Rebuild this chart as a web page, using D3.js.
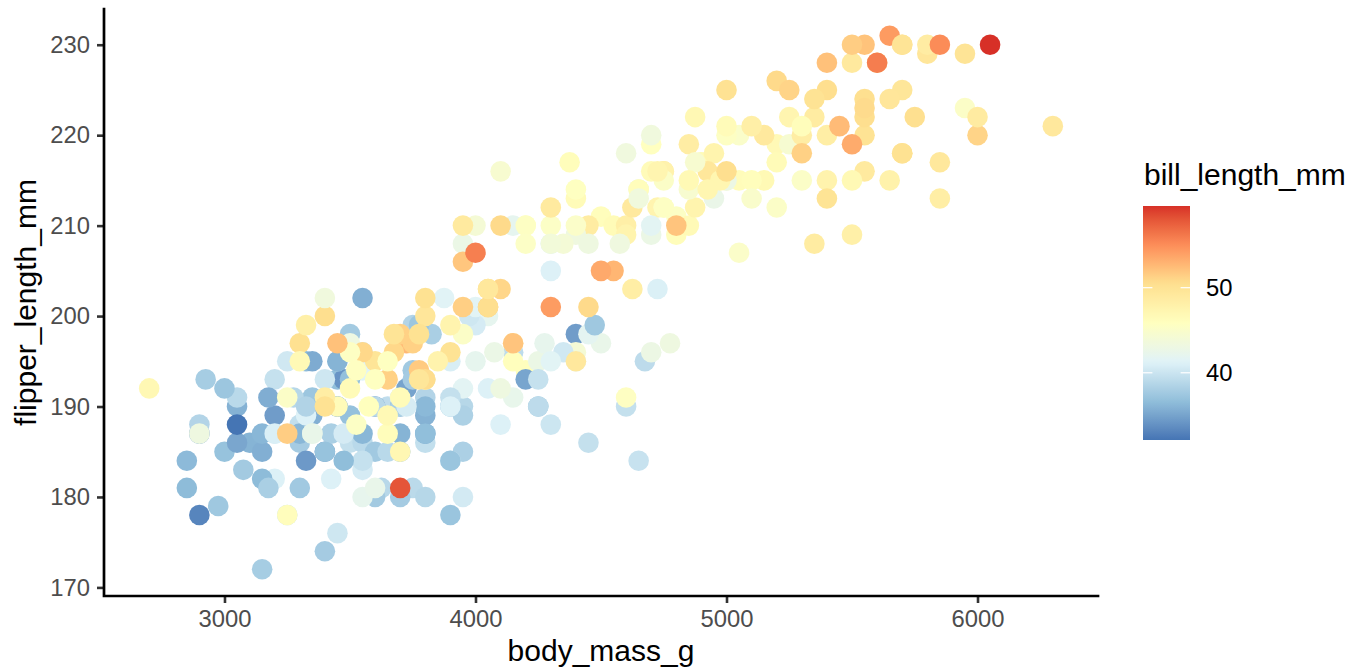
<!DOCTYPE html>
<html>
<head>
<meta charset="utf-8">
<script src="https://cdn.jsdelivr.net/npm/d3@7"></script>
<style>
  html, body { margin: 0; padding: 0; background: #ffffff; }
  svg { display: block; font-family: "Liberation Sans", Arial, sans-serif; }
</style>
</head>
<body>
<svg id="chart" width="1355" height="668"></svg>
<script>
// Palmer penguins: Adelie, Gentoo, Chinstrap (rows with NA removed), in dataset order
const body_mass_g = [
3750,3800,3250,3450,3650,3625,4675,3475,4250,3300,3700,3200,3800,4400,3700,3450,4500,3325,4200,
3400,3600,3800,3950,3800,3800,3550,3200,3150,3950,
3250,3900,3300,3900,3325,4150,3950,3550,3300,4650,3150,3900,3100,4400,3000,4600,3425,2975,3450,4150,
3500,4300,3450,4050,2900,3700,3550,3800,2850,3750,3150,4400,3600,4050,2850,3950,3350,4100,
3050,4450,3600,3900,3550,4150,3700,4250,3700,3900,3550,4000,3200,4700,3800,4200,
3350,3550,3800,3500,3950,3600,3550,4300,3400,4450,3300,4300,3700,4350,2900,4100,
3725,4725,3075,4250,2925,3550,3750,3900,3175,4775,3825,4600,3200,4275,3900,4075,
2900,3775,3350,3325,3150,3500,3450,3875,3050,4000,3275,4300,3050,4000,3325,3500,
3500,4475,3425,3900,3175,3975,3400,4250,3400,3475,3050,3725,3000,3650,4250,3475,3450,3750,3700,4000,
// Gentoo
4500,5700,4450,5700,5400,4550,4800,5200,4400,5150,4650,5550,4650,5850,4200,5850,4150,6300,4800,5350,
5700,5000,4400,5050,5000,5100,4100,5650,4600,5550,5250,4700,5050,6050,5150,5400,4950,5250,4350,5350,
3950,5700,4300,4750,5550,4900,4200,5400,5100,5300,4850,5300,4400,5000,4900,5050,4300,5000,4450,5550,
4200,5300,4400,5650,4700,5700,4650,5800,4700,5550,4750,5000,5100,5200,4700,5800,4600,6000,4750,5950,
4625,5450,4725,5350,4750,5600,4600,5300,4875,5550,4950,5400,4750,5650,4850,5200,4925,4875,4625,5250,
4850,5600,4975,5500,4725,5500,4700,5500,4575,5500,5000,5950,4650,5500,4375,5850,4875,6000,4925,
4850,5750,5200,5400,
// Chinstrap
3500,3900,3650,3525,3725,3950,3250,3750,4150,3700,3800,3775,3700,4050,3575,4050,3300,3700,3450,4400,
3600,3400,2900,3800,3300,4150,3400,3800,3700,4550,3200,4300,3350,4100,3600,3900,3850,4800,2700,4500,
3950,3650,3550,3500,3675,4450,3400,4300,3250,3675,3325,3950,3600,4050,3350,3450,3250,4050,3800,3525,
3950,3650,3650,4000,3400,3775,4100,3775
];
const flipper_length_mm = [
181,186,195,193,190,181,195,193,190,186,180,182,191,198,185,195,197,184,194,
174,180,189,185,180,187,183,187,172,180,
178,178,188,184,195,196,190,180,181,184,182,195,186,196,185,190,182,179,190,191,
186,188,190,200,187,191,186,193,181,194,185,195,185,192,184,192,195,188,
190,198,190,190,196,197,190,195,191,184,187,195,189,196,187,193,
191,194,190,189,189,190,202,205,185,186,187,208,190,196,178,192,
192,203,183,190,193,184,199,190,181,197,198,191,193,197,191,196,
188,199,189,189,187,198,176,202,186,199,191,195,191,210,190,197,
193,199,187,190,191,200,185,193,193,187,188,190,192,185,190,184,195,193,187,201,
// Gentoo
211,230,210,218,215,210,211,219,209,215,214,216,214,213,210,217,210,221,209,222,
218,215,213,215,215,215,216,215,210,220,222,209,207,230,220,220,213,219,208,208,
208,225,210,216,222,217,210,225,213,215,210,220,210,225,217,220,208,220,208,224,
208,221,214,231,219,230,214,229,220,223,216,221,221,217,216,230,209,220,215,223,
212,221,212,224,212,228,218,218,212,230,218,228,212,224,214,226,216,222,203,225,
219,228,215,228,216,215,210,219,208,209,216,229,213,230,217,230,217,222,214,
215,222,212,213,
// Chinstrap
192,196,193,188,197,198,178,197,195,198,193,194,185,201,190,201,197,181,190,195,
181,191,187,193,195,197,200,200,191,205,187,201,187,203,195,199,195,210,192,205,
210,187,196,196,196,201,190,212,187,198,199,201,193,203,187,197,191,203,202,194,
206,189,195,207,202,193,210,198
];
const bill_length_mm = [
39.1,39.5,40.3,36.7,39.3,38.9,39.2,34.1,42.0,37.8,37.8,41.1,38.6,34.6,36.6,38.7,42.5,34.4,46.0,
37.8,37.7,35.9,38.2,38.8,35.3,40.6,40.5,37.9,40.5,
39.5,37.2,39.5,40.9,36.4,39.2,38.8,42.2,37.6,39.8,36.5,40.8,36.0,44.1,37.0,39.6,41.1,37.5,36.0,42.3,
39.6,40.1,35.0,42.0,34.5,41.4,39.0,40.6,36.5,37.6,35.7,41.3,37.6,41.1,36.4,41.6,35.5,41.1,
35.9,41.8,33.5,39.7,39.6,45.8,35.5,42.8,40.9,37.2,36.2,42.1,34.6,42.9,36.7,35.1,
37.3,41.3,36.3,36.9,38.3,38.9,35.7,41.1,34.0,39.6,36.2,40.8,38.1,40.3,33.1,43.2,
35.0,41.0,37.7,37.8,37.9,39.7,38.6,38.2,38.1,43.2,38.1,45.6,39.7,42.2,39.6,42.7,
38.6,37.3,35.7,41.1,36.2,37.7,40.2,41.4,35.2,40.6,38.8,41.5,39.0,44.1,38.5,43.1,
36.8,37.5,38.1,41.1,35.6,40.2,37.0,39.7,40.2,40.6,32.1,40.7,37.3,39.0,39.2,36.6,36.0,37.8,36.0,41.5,
// Gentoo
46.1,50.0,48.7,50.0,47.6,46.5,45.4,46.7,43.3,46.8,40.9,49.0,45.5,48.4,45.8,49.3,42.0,49.2,46.2,48.7,
50.2,45.1,46.5,46.3,42.9,46.1,44.5,47.8,48.2,50.0,47.3,42.8,45.1,59.6,49.1,48.4,42.6,44.4,44.0,48.7,
42.7,49.6,45.3,49.6,50.5,43.6,45.5,50.5,44.9,45.2,46.6,48.5,45.1,50.1,46.5,45.0,43.8,45.5,43.2,50.4,
45.3,46.2,45.7,54.3,45.8,49.8,46.2,49.5,43.5,50.7,47.7,46.4,48.2,46.5,46.4,48.6,47.5,51.1,45.2,45.2,
49.1,52.5,47.4,50.0,44.9,50.8,43.4,51.3,47.5,52.1,47.5,52.2,45.5,49.5,44.5,50.8,49.4,46.9,48.4,51.1,
48.5,55.9,47.2,49.1,47.3,46.8,41.7,53.4,43.3,48.1,50.5,49.8,43.5,51.5,46.2,55.1,44.5,48.8,47.2,
46.8,50.4,45.2,49.9,
// Chinstrap
46.5,50.0,51.3,45.4,52.7,45.2,46.1,51.3,46.0,51.3,46.6,51.7,47.0,52.0,45.9,50.5,50.3,58.0,46.4,49.2,
42.4,48.5,43.2,50.6,46.7,52.0,50.5,49.5,46.4,52.8,40.9,54.2,42.5,51.0,49.7,47.5,47.6,52.0,46.9,53.5,
49.0,46.2,50.9,45.5,50.9,50.8,50.1,49.0,51.5,49.8,48.1,51.4,45.7,50.7,42.5,52.2,45.2,49.3,50.2,45.6,
51.9,46.8,45.7,55.8,43.5,49.6,50.8,50.2
];
const x_ticks = [3000, 4000, 5000, 6000];
const y_ticks = [170, 180, 190, 200, 210, 220, 230];
const legend_ticks = [40, 50];
// RdYlBu (7 classes), reversed: low = blue, high = red
const palette = ["#4575B4", "#91BFDB", "#E0F3F8", "#FFFFBF", "#FEE090", "#FC8D59", "#D73027"];

const data = body_mass_g.map((m, i) => ({ mass: m, flip: flipper_length_mm[i], bill: bill_length_mm[i] }));

const svg = d3.select("#chart");
const panel = { left: 104, right: 1098, top: 9, bottom: 596 };

function expand(ext, f) { const d = ext[1] - ext[0]; return [ext[0] - d * f, ext[1] + d * f]; }

const x = d3.scaleLinear().domain(expand(d3.extent(body_mass_g), 0.05)).range([panel.left, panel.right]);
const y = d3.scaleLinear().domain(expand(d3.extent(flipper_length_mm), 0.05)).range([panel.bottom, panel.top]);

const billExt = d3.extent(bill_length_mm);
const stops = palette.map((_, i) => billExt[0] + (billExt[1] - billExt[0]) * i / (palette.length - 1));
const color = d3.scaleLinear().domain(stops).range(palette).interpolate(d3.interpolateLab);

// points
svg.append("g").selectAll("circle").data(data).join("circle")
  .attr("cx", d => x(d.mass))
  .attr("cy", d => y(d.flip))
  .attr("r", 10.3)
  .attr("fill", d => color(d.bill));

// axes
const tickFont = 23.8;
const gx = svg.append("g").attr("transform", `translate(0,${panel.bottom})`)
  .call(d3.axisBottom(x).tickValues(x_ticks).tickFormat(d3.format("d")).tickSize(7).tickSizeOuter(0).tickPadding(7));
const gy = svg.append("g").attr("transform", `translate(${panel.left},0)`)
  .call(d3.axisLeft(y).tickValues(y_ticks).tickFormat(d3.format("d")).tickSize(7).tickSizeOuter(0).tickPadding(7));
[gx, gy].forEach(g => {
  g.select(".domain").remove();
  g.selectAll(".tick line").attr("stroke", "#333333").attr("stroke-width", 2.6);
  g.selectAll(".tick text").attr("fill", "#4D4D4D").style("font-size", tickFont + "px")
    .style("font-family", "'Liberation Sans', Arial, sans-serif");
});
// axis lines (meeting at the corner)
svg.append("path")
  .attr("d", `M${panel.left},${panel.top}V${panel.bottom}H${panel.right}`)
  .attr("fill", "none").attr("stroke", "#000").attr("stroke-width", 2.7).attr("stroke-linejoin", "miter")
  .attr("stroke-linecap", "square");

// axis titles
const titleFont = 30;
svg.append("text").attr("x", (panel.left + panel.right) / 2).attr("y", 661)
  .attr("text-anchor", "middle").style("font-size", titleFont + "px").attr("fill", "#000")
  .text("body_mass_g");
svg.append("text").attr("transform", `translate(36,${(panel.top + panel.bottom) / 2}) rotate(-90)`)
  .attr("text-anchor", "middle").style("font-size", titleFont + "px").attr("fill", "#000")
  .text("flipper_length_mm");

// legend
const lg = { x: 1143, w: 47, top: 206, bottom: 440 };
const ly = d3.scaleLinear().domain(billExt).range([lg.bottom, lg.top]);
const defs = svg.append("defs");
const grad = defs.append("linearGradient").attr("id", "billgrad")
  .attr("x1", 0).attr("y1", 1).attr("x2", 0).attr("y2", 0);
d3.range(0, 1.0001, 0.02).forEach(t => {
  grad.append("stop").attr("offset", t).attr("stop-color", color(billExt[0] + t * (billExt[1] - billExt[0])));
});
svg.append("text").attr("x", 1144).attr("y", 185).style("font-size", titleFont + "px").attr("fill", "#000")
  .text("bill_length_mm");
svg.append("rect").attr("x", lg.x).attr("y", lg.top).attr("width", lg.w).attr("height", lg.bottom - lg.top)
  .attr("fill", "url(#billgrad)");
const lt = svg.append("g");
legend_ticks.forEach(v => {
  lt.append("line").attr("x1", lg.x).attr("x2", lg.x + lg.w / 5).attr("y1", ly(v)).attr("y2", ly(v))
    .attr("stroke", "#fff").attr("stroke-width", 1.2);
  lt.append("line").attr("x1", lg.x + lg.w - lg.w / 5).attr("x2", lg.x + lg.w).attr("y1", ly(v)).attr("y2", ly(v))
    .attr("stroke", "#fff").attr("stroke-width", 1.2);
  lt.append("text").attr("x", 1206).attr("y", ly(v)).attr("dy", "0.36em")
    .style("font-size", tickFont + "px").attr("fill", "#000").text(v);
});
</script>
</body>
</html>
